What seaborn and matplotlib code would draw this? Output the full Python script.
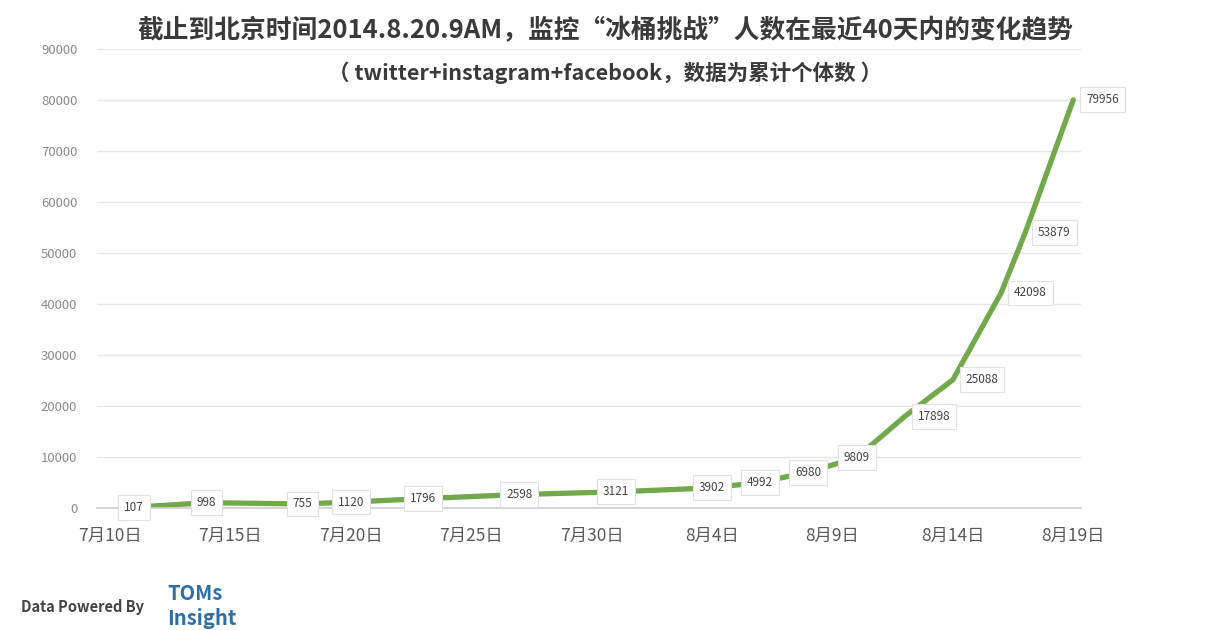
import matplotlib
matplotlib.use("Agg")
import matplotlib.pyplot as plt
import seaborn as sns
import pandas as pd

# data (cumulative counts)
dates = ["2014-07-11", "2014-07-14", "2014-07-18", "2014-07-20", "2014-07-23",
         "2014-07-27", "2014-07-31", "2014-08-04", "2014-08-06", "2014-08-08",
         "2014-08-10", "2014-08-12", "2014-08-14", "2014-08-16", "2014-08-17",
         "2014-08-19"]
counts = [107, 998, 755, 1120, 1796, 2598, 3121, 3902, 4992, 6980,
          9809, 17898, 25088, 42098, 53879, 79956]
tick_labels = ["7月10日", "7月15日", "7月20日", "7月25日", "7月30日",
               "8月4日", "8月9日", "8月14日", "8月19日"]

title1 = "截止到北京时间2014.8.20.9AM，监控“冰桶挑战”人数在最近40天内的变化趋势"
title2 = "（ twitter+instagram+facebook，数据为累计个体数 ）"

start = pd.Timestamp("2014-07-10")
df = pd.DataFrame({"date": pd.to_datetime(dates), "count": counts})
df["day"] = (df["date"] - start).dt.days

sns.set_theme(style="white")
plt.rcParams['font.family'] = ['Noto Sans CJK SC', 'DejaVu Sans']

fig = plt.figure(figsize=(12.1, 6.3), dpi=100)
ax = fig.add_axes([0.080, 0.194, 0.813, 0.729])

sns.lineplot(data=df, x="day", y="count", color="#72a94a", linewidth=3.8, ax=ax)

ax.set_xlim(-0.55, 40.3)
ax.set_ylim(0, 90000)
ax.set_yticks(range(0, 90001, 10000))
ax.set_yticklabels([str(v) for v in range(0, 90001, 10000)], fontsize=9.5, color="#8a8a8a")
ax.set_xticks(range(0, 41, 5))
ax.set_xticklabels(tick_labels, fontsize=12.5, color="#5a5a5a")
ax.tick_params(axis="both", length=0)
ax.tick_params(axis="y", pad=14)
ax.tick_params(axis="x", pad=14)
ax.grid(axis="y", color="#e6e6e6", linewidth=1)
for s in ["top", "right", "left"]:
    ax.spines[s].set_visible(False)
ax.spines["bottom"].set_color("#d0d0d0")
ax.set_xlabel("")
ax.set_ylabel("")

# data labels
for d, v in zip(df["day"], df["count"]):
    dx = 0 if v < 10000 else 21
    ax.annotate(str(v), (d, v), xytext=(dx, 0), textcoords="offset points",
                ha="center", va="center", fontsize=8.5, color="#444444",
                bbox=dict(boxstyle="square,pad=0.5", fc="white", ec="#e2e2e2", lw=0.8),
                zorder=5)

fig.text(0.5, 0.952, title1, ha="center", va="center", fontsize=18.5,
         fontweight="bold", color="#3a3a3a")
fig.text(0.5, 0.884, title2, ha="center", va="center", fontsize=15.5,
         fontweight="bold", color="#3a3a3a")

fig.text(0.017, 0.037, "Data Powered By", ha="left", va="center", fontsize=10.5,
         fontweight="bold", color="#444444")
fig.text(0.138, 0.058, "TOMs", ha="left", va="center", fontsize=14.5,
         fontweight="bold", color="#2f6fa8")
fig.text(0.138, 0.018, "Insight", ha="left", va="center", fontsize=14.5,
         fontweight="bold", color="#2f6fa8")

fig.savefig("out.png", dpi=100, facecolor="white")
